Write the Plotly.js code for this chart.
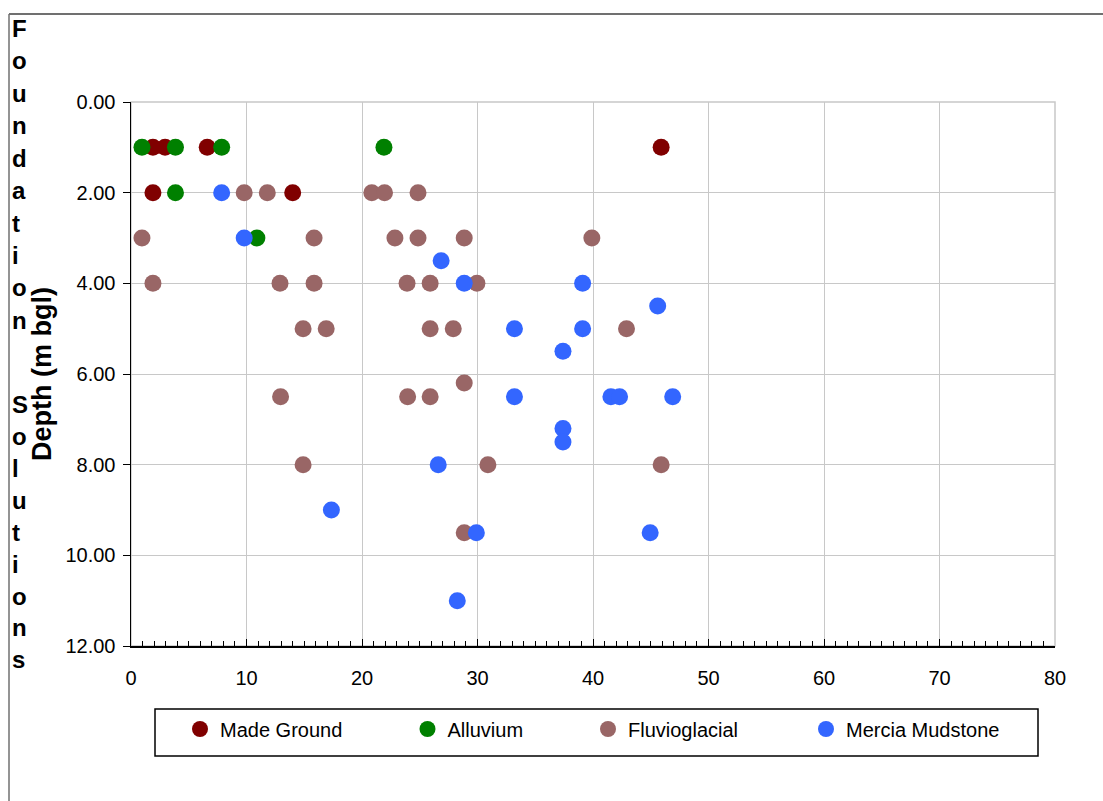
<!DOCTYPE html>
<html>
<head>
<meta charset="utf-8">
<script src="https://cdn.plot.ly/plotly-3.0.1.min.js"></script>
<style>
  html, body { margin: 0; padding: 0; background: #ffffff; }
  #chart { width: 1103px; height: 801px; }
</style>
</head>
<body>
<div id="chart"></div>
<script>
// ---- Data ----
const seriesNames = ["Made Ground", "Alluvium", "Fluvioglacial", "Mercia Mudstone"];
const seriesColors = ["#800000", "#008000", "#996666", "#3366FF"];

const madeGroundX = [1.9, 2.95, 6.6, 1.9, 14.0, 45.9];
const madeGroundY = [1, 1, 1, 2, 2, 1];

const alluviumX = [0.95, 3.85, 7.85, 21.9, 3.85, 10.9];
const alluviumY = [1, 1, 1, 1, 2, 3];

const fluvioX = [9.8, 11.8, 20.85, 21.95, 24.85,
                 0.95, 15.85, 22.85, 24.85, 28.85, 39.9,
                 1.9, 12.9, 15.85, 23.9, 25.9, 29.95,
                 14.9, 16.9, 25.9, 27.9, 42.9,
                 12.95, 23.95, 25.9, 28.85,
                 14.9, 30.9, 45.9,
                 28.85];
const fluvioY = [2, 2, 2, 2, 2,
                 3, 3, 3, 3, 3, 3,
                 4, 4, 4, 4, 4, 4,
                 5, 5, 5, 5, 5,
                 6.5, 6.5, 6.5, 6.2,
                 8, 8, 8,
                 9.5];

const merciaX = [7.85, 9.8, 26.85, 28.85, 39.1, 45.6, 33.2, 39.1, 37.4, 33.2,
                 41.55, 42.3, 46.9, 37.4, 37.4, 26.6, 17.35, 29.9, 44.95, 28.25];
const merciaY = [2, 3, 3.5, 4, 4, 4.5, 5, 5, 5.5, 6.5,
                 6.5, 6.5, 6.5, 7.2, 7.5, 8, 9, 9.5, 9.5, 11];

const xTickVals = [0, 10, 20, 30, 40, 50, 60, 70, 80];
const yTickVals = [0, 2, 4, 6, 8, 10, 12];
const yTickText = ["0.00", "2.00", "4.00", "6.00", "8.00", "10.00", "12.00"];
const yTitle = "Depth (m bgl)";
const sideText1 = "Foundation";
const sideText2 = "Solutions";

// ---- Layout geometry helpers (pixel -> paper) ----
const W = 1103, H = 801;
const ML = 131, MR = 48, MT = 102, MB = 155;
const PW = W - ML - MR, PH = H - MT - MB;
const px = v => (v - ML) / PW;
const py = v => (H - MB - v) / PH;

const xs = [madeGroundX, alluviumX, fluvioX, merciaX];
const ys = [madeGroundY, alluviumY, fluvioY, merciaY];
const legendIds = ["legend", "legend2", "legend3", "legend4"];
const legendMarkerPx = [202, 429.5, 610, 828];

const traces = seriesNames.map((name, i) => ({
  type: "scatter",
  mode: "markers",
  name: name,
  x: xs[i],
  y: ys[i],
  legend: legendIds[i],
  marker: { color: seriesColors[i], size: 17, line: { width: 0 } },
  hoverinfo: "x+y+name"
}));

const legendFont = { family: "Liberation Sans, Arial, sans-serif", size: 20, color: "#000000" };

const layout = {
  width: W,
  height: H,
  margin: { l: ML, r: MR, t: MT, b: MB, pad: 0 },
  paper_bgcolor: "#ffffff",
  plot_bgcolor: "#ffffff",
  font: { family: "Liberation Sans, Arial, sans-serif", size: 20, color: "#000000" },
  showlegend: true,
  xaxis: {
    range: [0, 80],
    tickvals: xTickVals,
    ticks: "inside",
    ticklen: 7,
    tickwidth: 1,
    tickcolor: "#000000",
    ticklabelstandoff: 13,
    showline: true,
    linecolor: "#000000",
    linewidth: 1.5,
    showgrid: true,
    gridcolor: "#c8c8c8",
    gridwidth: 1,
    zeroline: false,
    minor: { dtick: 1, ticks: "inside", ticklen: 5, tickcolor: "#000000", tickwidth: 1, showgrid: false },
    tickfont: { size: 20 },
    fixedrange: true
  },
  yaxis: {
    range: [12, 0],
    tickvals: yTickVals,
    ticktext: yTickText,
    ticks: "outside",
    ticklen: 7,
    tickwidth: 1,
    tickcolor: "#000000",
    ticklabelstandoff: 3,
    showline: true,
    linecolor: "#000000",
    linewidth: 1.5,
    showgrid: true,
    gridcolor: "#c8c8c8",
    gridwidth: 1,
    zeroline: false,
    tickfont: { size: 20 },
    title: { text: yTitle, font: { size: 27, family: "Liberation Sans, Arial, sans-serif", weight: "bold", color: "#000000" }, standoff: 6 },
    fixedrange: true
  },
  shapes: [
    // plot area border (grey)
    { type: "rect", xref: "paper", yref: "paper", x0: 0, x1: 1, y0: 0, y1: 1,
      line: { color: "#c8c8c8", width: 1.5 }, layer: "below" },
    // legend box
    { type: "rect", xref: "paper", yref: "paper",
      x0: px(155), x1: px(1038), y0: py(756), y1: py(709),
      line: { color: "#000000", width: 1.5 }, fillcolor: "rgba(0,0,0,0)" },
    // outer frame lines
    { type: "line", xref: "paper", yref: "paper",
      x0: px(9), x1: px(1103), y0: py(14), y1: py(14),
      line: { color: "#707070", width: 2 } },
    { type: "line", xref: "paper", yref: "paper",
      x0: px(9), x1: px(9), y0: py(14), y1: py(801),
      line: { color: "#707070", width: 1.5 } }
  ],
  annotations: []
};

legendIds.forEach((id, i) => {
  layout[id] = {
    x: px(legendMarkerPx[i] - 22),
    xanchor: "left",
    y: py(729),
    yanchor: "middle",
    orientation: "h",
    bgcolor: "rgba(0,0,0,0)",
    borderwidth: 0,
    font: legendFont,
    itemsizing: "trace",
    itemclick: false,
    itemdoubleclick: false
  };
});

// vertical stacked side text, one letter per line
const sideFontSize = 24;
function addLetters(word, firstBaseline, step) {
  word.split("").forEach((ch, k) => {
    const base = firstBaseline + k * step;
    layout.annotations.push({
      text: ch,
      xref: "paper", yref: "paper",
      x: px(10), xanchor: "left",
      y: py(base - 0.35 * sideFontSize), yanchor: "middle",
      showarrow: false,
      font: { family: "Liberation Sans, Arial, sans-serif", size: sideFontSize, weight: "bold", color: "#000000" }
    });
  });
}
addLetters(sideText1, 37, 32.4);
addLetters(sideText2, 413, 31.9);

Plotly.newPlot("chart", traces, layout, { displayModeBar: false, staticPlot: true });
</script>
</body>
</html>
